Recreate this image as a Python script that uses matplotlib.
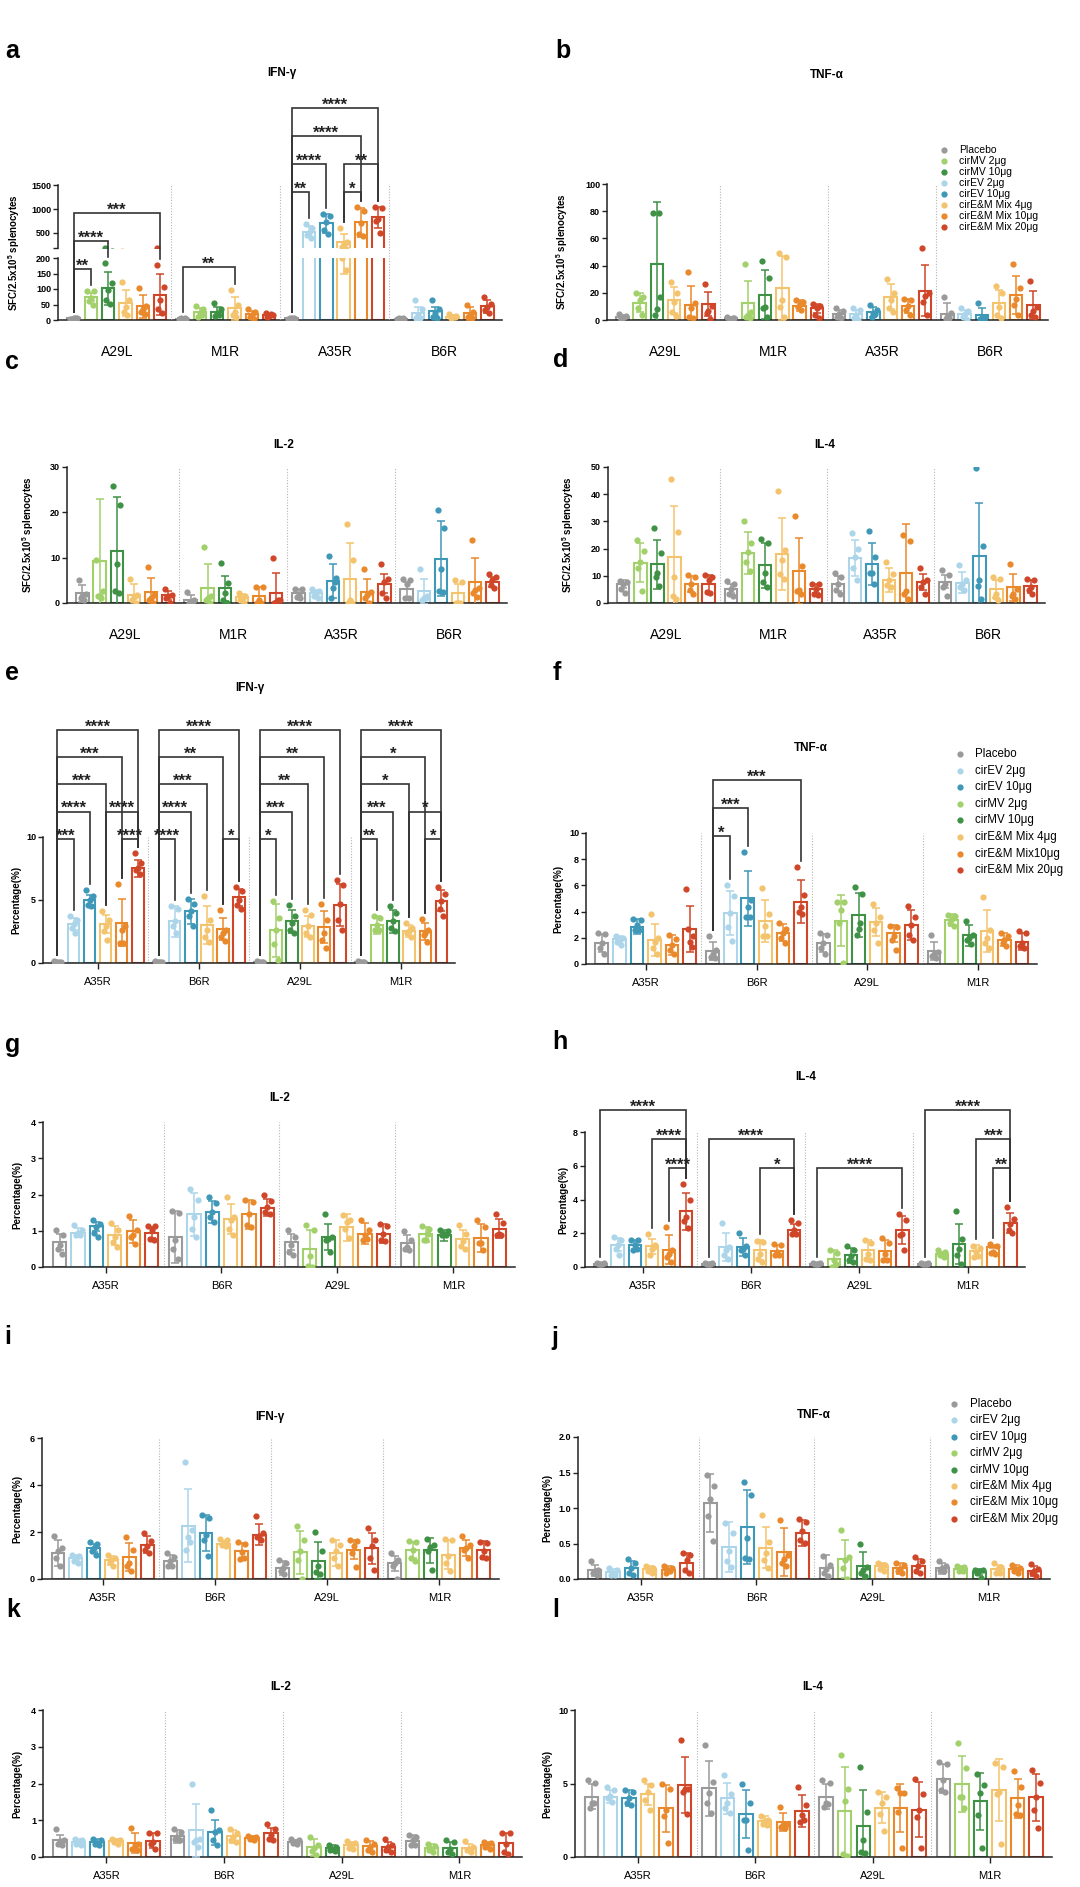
import numpy as np
import matplotlib
matplotlib.use('Agg')
import matplotlib.pyplot as plt
from matplotlib.lines import Line2D

plt.rcParams['font.family'] = ['Liberation Sans', 'DejaVu Sans']
plt.rcParams['mathtext.fontset'] = 'custom'
plt.rcParams['mathtext.rm'] = 'Liberation Sans'
plt.rcParams['mathtext.bf'] = 'Liberation Sans:bold'

# antigen order: panels a-d use the first, e-l the second
antigens_top = ['A29L', 'M1R', 'A35R', 'B6R']
antigens_low = ['A35R', 'B6R', 'A29L', 'M1R']

# bar order inside a group (MV antigens get cirMV, EV antigens get cirEV)
mv_keys = ['P', 'MV2', 'MV10', 'M4', 'M10', 'M20']
ev_keys = ['P', 'EV2', 'EV10', 'M4', 'M10', 'M20']
colors = {'P': '#9a9a9a', 'MV2': '#a2d06b', 'MV10': '#3f9146', 'EV2': '#acd5ea',
          'EV10': '#3f98b8', 'M4': '#f4c36d', 'M10': '#e9892b', 'M20': '#cf4629'}

legend_b = ['Placebo', 'cirMV 2μg', 'cirMV 10μg', 'cirEV 2μg', 'cirEV 10μg',
            'cirE&M Mix 4μg', 'cirE&M Mix 10μg', 'cirE&M Mix 20μg']
legend_b_keys = ['P', 'MV2', 'MV10', 'EV2', 'EV10', 'M4', 'M10', 'M20']
legend_f = ['Placebo', 'cirEV 2μg', 'cirEV 10μg', 'cirMV 2μg', 'cirMV 10μg',
            'cirE&M Mix 4μg', 'cirE&M Mix10μg', 'cirE&M Mix 20μg']
legend_j = ['Placebo', 'cirEV 2μg', 'cirEV 10μg', 'cirMV 2μg', 'cirMV 10μg',
            'cirE&M Mix 4μg', 'cirE&M Mix 10μg', 'cirE&M Mix 20μg']
legend_fj_keys = ['P', 'EV2', 'EV10', 'MV2', 'MV10', 'M4', 'M10', 'M20']

# ---- a: ELISpot IFN-g ----
sfc_ifng_mean = [[5, 73, 102, 55, 44, 82], [4, 26, 27, 38, 18, 16],
                 [5, 530, 700, 310, 720, 828], [4, 22, 28, 11, 21, 44]]
sfc_ifng_sd = [[2, 13, 53, 43, 36, 65], [2, 12, 15, 37, 10, 4],
               [2, 120, 196, 160, 294, 221], [2, 21, 15, 5, 22, 20]]
sfc_ifng_pts = [
    [[3, 5, 6, 4, 7], [95, 93, 72, 62, 48], [185, 118, 96, 64, 53], [123, 66, 43, 27, 16], [102, 45, 34, 27, 19], [179, 107, 64, 37, 21]],
    [[2, 3, 4, 5, 6], [46, 34, 21, 11, 16], [56, 37, 21, 13, 16], [98, 48, 27, 16, 11], [34, 27, 16, 11, 2], [21, 16, 13, 11, 19]],
    [[3, 4, 5, 6, 7], [690, 600, 510, 450, 400], [900, 850, 720, 560, 470], [600, 320, 270, 200, 160], [1040, 950, 700, 480, 430], [1045, 1030, 800, 760, 505]],
    [[2, 3, 4, 5, 6], [64, 37, 16, 5, 5], [64, 37, 21, 11, 5], [19, 13, 9, 5, 11], [50, 27, 16, 9, 5], [75, 53, 41, 32, 21]]]

# ---- b: ELISpot TNF-a ----
sfc_tnf_mean = [[2.1, 12.8, 41.3, 14.7, 11, 11.8], [1.2, 12.3, 18.4, 23.3, 10.6, 8.6],
                [4.4, 4.4, 6.1, 17.2, 10.3, 21.6], [4.4, 4.4, 3.7, 12.3, 18.4, 11]]
sfc_tnf_sd = [[1.6, 6.9, 45.2, 9.9, 14.3, 9.1], [0.8, 16.7, 18, 23.4, 4.1, 3.2],
              [3, 3, 3.7, 9.3, 4.9, 18.9], [7.9, 3, 4.9, 9.8, 14, 10.6]]
sfc_tnf_pts = [
    [[4.4, 3, 1.2, 0.3, 2], [19.7, 16.7, 14.7, 8.6, 3.7], [79, 17, 8, 4, 79], [28.3, 19.7, 13.5, 5.7, 3.2], [35, 12.8, 8.6, 2.5, 1.2], [26.5, 10.3, 6.9, 4.9, 0.5]],
    [[2, 1.5, 1, 0.5, 1.2], [41, 5.7, 3.7, 2.5, 1.2], [43.5, 30.7, 9.8, 8.6, 2.5], [49, 46, 14.7, 9.8, 2.5], [15, 13.5, 12, 9.8, 7.4], [11.8, 10.3, 8.6, 3.7, 1.2]],
    [[8.6, 6.9, 4.4, 2.5, 1.2], [8.6, 7.4, 3.7, 1.2, 0.3], [11, 7.4, 4.9, 2.5, 4.4], [30, 19.7, 14.7, 8.6, 6.1], [15.2, 14.7, 10.3, 7.4, 3.7], [53, 20, 18, 13, 4]],
    [[16.7, 4.9, 2.5, 0.5, 1.2], [8.6, 6.9, 4.4, 2.5, 0.3], [12.3, 2.5, 1.2, 0.5, 0.2], [25.3, 19.7, 9.3, 3.7, 1.2], [41, 23.8, 15.2, 11, 3.7], [29, 9.8, 6.9, 3.7, 2]]]

# ---- c: ELISpot IL-2 ----
sfc_il2_mean = [[2.1, 9.2, 11.5, 1.7, 2.4, 1.7], [0.6, 3.2, 3.2, 1.3, 1.5, 2.3],
                [2.1, 2.1, 4.8, 5.4, 2.4, 4.3], [3.0, 2.6, 9.8, 2.1, 4.7, 4.7]]
sfc_il2_sd = [[1.8, 13.7, 11.9, 2.4, 3.2, 1.0], [1.1, 5.4, 2.7, 0.6, 2.0, 4.3],
              [0.9, 0.7, 3.7, 7.9, 3.0, 2.2], [1.7, 2.8, 8.3, 2.0, 5.3, 1.1]]
sfc_il2_pts = [
    [[5, 2, 1.5, 1, 0.6], [9.5, 2.6, 1.5, 1.5, 1.2], [25.9, 21.7, 8.6, 2.6, 2.1], [5.4, 1.7, 1.3, 0.6, 0], [8, 1.7, 1, 0.6, 0], [3, 1.7, 1.5, 1, 0]],
    [[2.4, 0.6, 0, 0, 0], [12.4, 1.5, 1, 0.6, 0], [8.9, 4.5, 2.1, 0.6, 0], [2.1, 1.5, 1, 0.6, 0], [3.5, 3.5, 0.6, 0, 0], [10, 0.6, 0.2, 0, 0.6]],
    [[3, 3, 1.7, 1.3, 1], [3, 2.7, 2.1, 1.5, 1], [10.4, 5.5, 3.3, 1, 4.7], [17.4, 9.5, 0.6, 0, 0], [7.4, 2.4, 1.7, 1, 0], [8.5, 5.2, 4.7, 2.1, 1]],
    [[5.2, 5, 4.1, 1, 1], [7.4, 1.5, 1, 0.6, 1], [20.5, 16.5, 7.6, 2.7, 2.4], [5, 4.7, 0, 0, 0], [14, 3.2, 2.8, 2.1, 1.3], [6.5, 5.8, 5, 3.9, 3.2]]]

# ---- d: ELISpot IL-4 ----
sfc_il4_mean = [[6.9, 14.8, 14.2, 17, 6.9, 6.9], [5.3, 18.5, 13.9, 18, 11.8, 5.3],
                [7.1, 16.6, 14.2, 8.4, 11.1, 7.8], [7.8, 7.5, 17.4, 5.3, 5.7, 6.2]]
sfc_il4_sd = [[1.5, 7.1, 9.0, 18.7, 3.0, 3.3], [1.6, 7.7, 8.3, 13.4, 12.0, 1.6],
              [2.8, 6.6, 7.7, 4.3, 18.0, 3.0], [2.4, 4.0, 19.3, 3.3, 4.9, 2.4]]
sfc_il4_pts = [
    [[8.1, 7.8, 6.9, 5.3, 3.7], [23, 19, 15, 13, 4.5], [27.5, 18.2, 11.1, 9.6, 6.2], [45.6, 26.2, 9.6, 2.5, 1.6], [10.2, 9.6, 6.9, 4.7, 3.4], [10.2, 9.6, 8.4, 4.1, 3.7]],
    [[8.1, 6.9, 5.3, 3.4, 2.5], [30.2, 21.9, 18.8, 15.1, 11.8], [23.4, 21.9, 11.1, 7.8, 5.7], [41, 19.5, 15.8, 10.8, 9], [32, 13.5, 4.9, 4.4, 3.4], [7.1, 6.9, 5.3, 3.4, 2.8]],
    [[11.1, 9.6, 6.9, 4.7, 3.4], [25.6, 20, 17, 13, 8.4], [26.5, 17, 11.1, 11.1, 7.1], [15.1, 10.6, 8.4, 6.5, 5.9], [25, 22.8, 4.4, 3.4, 1.6], [12.7, 8.4, 7.8, 5.9, 3.4]],
    [[12.1, 10.2, 7.1, 5.9, 2.5], [13.9, 8.4, 7.1, 5.9, 4.7], [49.6, 21, 8.6, 6.2, 1.6], [9.6, 8.7, 3.4, 2.2, 1], [14.5, 5.3, 3.4, 2.5, 1.6], [9, 8.6, 5.9, 4.7, 3.4]]]

# ---- e: ICS IFN-g ----
pct_ifng_mean = [[0.1, 3.1, 5.0, 3.1, 3.2, 7.5], [0.1, 3.3, 4.1, 3.0, 2.7, 5.2],
                 [0.1, 2.6, 3.3, 2.9, 2.85, 4.6], [0.1, 3.0, 3.3, 2.55, 2.5, 4.95]]
pct_ifng_sd = [[0.03, 0.45, 0.4, 0.7, 1.85, 0.65], [0.03, 1.2, 1.0, 1.5, 0.85, 0.7],
               [0.03, 2.1, 0.9, 0.8, 1.25, 1.7], [0.03, 0.7, 0.9, 0.45, 0.65, 0.85]]
pct_ifng_pts = [
    [[0.12, 0.1, 0.08, 0.11, 0.09], [3.7, 3.4, 3.1, 2.8, 2.4], [5.8, 5.3, 5.0, 4.6, 4.5], [4.1, 3.4, 2.9, 2.5, 1.8], [6.3, 2.9, 2.6, 1.6, 1.6], [8.7, 7.95, 7.5, 7.4, 7.1]],
    [[0.12, 0.1, 0.08, 0.11, 0.09], [4.5, 4.3, 3.3, 2.9, 2.4], [5.1, 4.7, 4.1, 3.7, 2.9], [5.3, 3.4, 2.6, 2.1, 1.7], [4.2, 2.6, 2.4, 2.05, 1.75], [6.05, 5.7, 5.0, 4.6, 4.3]],
    [[0.12, 0.1, 0.08, 0.11, 0.09], [4.9, 3.6, 2.6, 1.5, 0.2], [4.6, 3.7, 3.2, 2.6, 2.4], [4.2, 3.8, 2.9, 2.4, 2.1], [4.7, 3.4, 2.4, 1.8, 1.2], [6.6, 6.2, 4.7, 3.4, 2.6]],
    [[0.12, 0.1, 0.08, 0.11, 0.09], [3.7, 3.55, 3.0, 2.6, 2.6], [4.5, 3.95, 3.3, 2.8, 2.5], [3.15, 2.8, 2.5, 2.4, 2.1], [3.5, 2.6, 2.4, 2.2, 1.7], [6.05, 5.5, 4.9, 4.3, 3.7]]]

# ---- f: ICS TNF-a ----
pct_tnf_mean = [[1.6, 1.9, 2.85, 1.83, 1.45, 2.7], [1.0, 3.9, 5.0, 3.3, 2.4, 4.75],
                [1.6, 3.3, 3.75, 3.2, 2.35, 3.0], [1.0, 3.35, 2.2, 2.5, 1.85, 1.7]]
pct_tnf_sd = [[0.7, 0.2, 0.55, 1.2, 0.75, 1.75], [0.7, 1.7, 2.1, 1.6, 0.65, 1.65],
              [0.7, 1.95, 1.7, 1.1, 0.65, 1.15], [0.7, 0.45, 0.8, 1.6, 0.5, 0.65]]
pct_tnf_pts = [
    [[2.4, 2.3, 1.6, 1.2, 0.8], [2.1, 2.0, 1.9, 1.7, 1.45], [3.4, 3.35, 3.0, 2.6, 2.6], [3.85, 1.95, 1.7, 1.2, 0.8], [2.2, 1.9, 1.45, 1.07, 0.8], [5.7, 2.1, 1.7, 2.7, 1.3]],
    [[2.15, 1.07, 0.8, 0.55, 0.43], [6.0, 5.2, 3.9, 2.85, 1.75], [8.55, 4.9, 4.35, 3.6, 3.55], [5.8, 3.85, 2.9, 2.1, 2.1], [3.1, 2.7, 2.4, 1.95, 1.6], [7.4, 5.25, 4.35, 4.0, 3.8]],
    [[2.35, 2.2, 1.6, 1.2, 0.8], [4.75, 4.7, 4.15, 3.1, 0.05], [5.85, 5.35, 2.7, 2.2, 3.15], [4.6, 3.6, 3.1, 2.6, 1.6], [2.9, 2.85, 2.15, 1.85, 1.1], [4.4, 3.6, 3.0, 2.2, 1.85]],
    [[2.2, 0.95, 0.8, 0.6, 0.43], [3.75, 3.65, 3.4, 3.1, 2.9], [3.3, 2.2, 1.95, 1.85, 1.5], [5.15, 2.6, 1.95, 1.6, 1.2], [2.35, 2.15, 1.85, 1.6, 1.35], [2.55, 2.35, 1.6, 1.35, 1.2]]]

# ---- g: ICS IL-2 ----
pct_il2_mean = [[0.69, 0.95, 1.12, 0.87, 0.98, 0.95], [0.83, 1.45, 1.52, 1.33, 1.45, 1.64],
                [0.69, 0.5, 0.83, 1.1, 0.92, 0.92], [0.66, 0.9, 0.87, 0.78, 0.81, 1.06]]
pct_il2_sd = [[0.23, 0.13, 0.12, 0.25, 0.31, 0.15], [0.71, 0.59, 0.3, 0.42, 0.39, 0.23],
              [0.23, 0.53, 0.37, 0.37, 0.29, 0.26], [0.21, 0.2, 0.14, 0.25, 0.39, 0.27]]
pct_il2_pts = [
    [[1.03, 0.87, 0.6, 0.5, 0.37], [1.15, 1.03, 0.95, 0.87, 0.87], [1.3, 1.2, 1.1, 0.95, 0.82], [1.21, 1.01, 0.83, 0.69, 0.55], [1.4, 1.01, 0.87, 0.83, 0.64], [1.13, 1.13, 1.01, 0.78, 0.75]],
    [[1.54, 1.5, 0.74, 0.5, 0.23], [2.14, 1.84, 1.38, 1.06, 0.83], [1.93, 1.77, 1.52, 1.38, 1.24], [1.93, 1.38, 1.29, 1.06, 0.87], [1.84, 1.79, 1.45, 1.15, 1.1], [2.0, 1.81, 1.66, 1.52, 1.47]],
    [[1.03, 0.83, 0.6, 0.41, 0.32], [1.15, 1.01, 0.3, 0.03, 0.01], [1.47, 0.83, 0.78, 0.74, 0.41], [1.43, 1.29, 1.24, 1.06, 0.81], [1.29, 1.01, 0.87, 0.74, 0.78], [1.18, 1.12, 0.92, 0.74, 0.72]],
    [[1.0, 0.74, 0.55, 0.5, 0.46], [1.13, 1.06, 0.74, 0.74, 0.92], [1.03, 1.0, 0.92, 0.87, 0.87], [1.15, 0.92, 0.72, 0.57, 0.5], [1.29, 1.1, 0.66, 0.66, 0.46], [1.47, 1.21, 0.92, 0.87, 0.87]]]

# ---- h: ICS IL-4 ----
pct_il4_mean = [[0.2, 1.32, 1.28, 1.23, 1.03, 3.3], [0.2, 1.19, 1.19, 0.99, 0.95, 2.21],
                [0.2, 0.49, 0.69, 1.03, 0.95, 2.17], [0.2, 0.79, 1.38, 0.95, 1.19, 2.61]]
pct_il4_sd = [[0.05, 0.4, 0.34, 0.45, 0.85, 1.09], [0.05, 0.85, 0.55, 0.59, 0.33, 0.32],
              [0.05, 0.54, 0.46, 0.59, 0.67, 0.83], [0.05, 0.1, 1.19, 0.33, 0.09, 0.61]]
pct_il4_pts = [
    [[0.25, 0.22, 0.2, 0.18, 0.15], [1.78, 1.62, 1.28, 1.09, 0.69], [1.62, 1.58, 1.28, 1.03, 1.09], [1.98, 1.28, 1.09, 0.69, 1.19], [2.37, 0.99, 0.79, 0.59, 0.3], [4.9, 3.95, 2.95, 2.75, 2.3]],
    [[0.25, 0.22, 0.2, 0.18, 0.15], [2.61, 1.19, 0.99, 0.69, 0.49], [2.02, 1.23, 1.09, 0.99, 0.69], [1.54, 1.48, 0.79, 0.49, 0.3], [1.38, 1.28, 0.89, 0.69, 0.69], [2.77, 2.61, 2.17, 1.98, 1.98]],
    [[0.25, 0.22, 0.2, 0.18, 0.15], [1.03, 0.83, 0.4, 0.0, 0.16], [1.23, 0.99, 0.63, 0.43, 0.3], [1.62, 1.42, 0.79, 0.49, 0.4], [1.74, 1.42, 0.79, 0.43, 0.4], [3.16, 2.77, 1.98, 1.88, 1.03]],
    [[0.25, 0.22, 0.2, 0.18, 0.15], [0.99, 0.89, 0.79, 0.69, 0.59], [3.3, 1.68, 1.09, 0.69, 0.2], [1.23, 1.15, 0.89, 0.59, 0.63], [1.38, 1.23, 0.89, 0.83, 0.79], [3.56, 2.87, 2.57, 2.21, 2.02]]]

# ---- i: IFN-g (second set) ----
pct_ifng2_mean = [[1.1, 0.89, 1.32, 0.79, 0.94, 1.46], [0.75, 2.27, 1.96, 1.5, 1.18, 1.89],
                  [0.47, 1.13, 0.78, 1.1, 1.25, 1.3], [0.66, 1.22, 1.22, 1.04, 1.32, 1.22]]
pct_ifng2_sd = [[0.55, 0.15, 0.17, 0.2, 0.59, 0.36], [0.29, 1.56, 0.78, 0.1, 0.35, 0.46],
                [0.28, 0.9, 0.79, 0.55, 0.4, 0.66], [0.3, 0.34, 0.52, 0.63, 0.33, 0.38]]
pct_ifng2_pts = [
    [[1.82, 1.32, 1.18, 0.89, 0.54], [1.04, 0.96, 0.85, 0.75, 0.68], [1.56, 1.5, 1.32, 1.18, 1.04], [1.04, 0.89, 0.79, 0.71, 0.54], [1.79, 1.25, 0.68, 0.54, 0.33], [1.95, 1.6, 1.4, 1.25, 1.1]],
    [[1.1, 0.94, 0.75, 0.54, 0.54], [4.98, 2.1, 1.79, 1.22, 1.56], [2.74, 2.6, 1.89, 1.65, 0.99], [1.7, 1.65, 1.53, 1.46, 1.39], [1.56, 1.5, 1.13, 0.85, 0.89], [2.67, 1.96, 1.82, 1.79, 1.67]],
    [[0.82, 0.68, 0.47, 0.33, 0.23], [2.24, 1.67, 1.18, 0.82, 0.0], [1.99, 1.18, 0.54, 0.28, 0.23], [1.67, 1.46, 1.18, 0.89, 0.54], [1.65, 1.6, 1.4, 1.1, 0.5], [2.17, 1.67, 1.4, 0.9, 0.37]],
    [[1.1, 0.82, 0.68, 0.54, 0.0], [1.6, 1.56, 1.25, 0.89, 0.75], [1.7, 1.45, 1.35, 1.2, 0.4], [1.7, 1.67, 0.96, 0.68, 0.33], [1.84, 1.46, 1.32, 1.22, 0.89], [1.56, 1.53, 1.18, 0.94, 0.89]]]

# ---- j: TNF-a (second set) ----
pct_tnf2_mean = [[0.12, 0.094, 0.16, 0.14, 0.13, 0.23], [1.07, 0.45, 0.73, 0.44, 0.38, 0.65],
                 [0.15, 0.28, 0.18, 0.18, 0.15, 0.18], [0.15, 0.14, 0.1, 0.14, 0.14, 0.11]]
pct_tnf2_sd = [[0.08, 0.05, 0.09, 0.04, 0.05, 0.13], [0.41, 0.35, 0.52, 0.29, 0.34, 0.18],
               [0.19, 0.27, 0.2, 0.05, 0.08, 0.1], [0.08, 0.04, 0.04, 0.06, 0.06, 0.07]]
pct_tnf2_pts = [
    [[0.26, 0.13, 0.11, 0.08, 0.06], [0.16, 0.13, 0.09, 0.06, 0.06], [0.28, 0.23, 0.15, 0.08, 0.06], [0.18, 0.15, 0.13, 0.11, 0.09], [0.18, 0.15, 0.13, 0.08, 0.11], [0.37, 0.34, 0.27, 0.13, 0.09]],
    [[1.47, 1.31, 1.12, 0.89, 0.54], [0.79, 0.65, 0.4, 0.26, 0.17], [1.36, 1.19, 0.58, 0.3, 0.28], [0.9, 0.52, 0.37, 0.27, 0.15], [0.83, 0.34, 0.28, 0.23, 0.19], [0.84, 0.8, 0.67, 0.55, 0.51]],
    [[0.33, 0.2, 0.14, 0.08, 0.04], [0.69, 0.31, 0.27, 0.15, 0.0], [0.5, 0.17, 0.12, 0.08, 0.04], [0.23, 0.2, 0.18, 0.14, 0.11], [0.23, 0.2, 0.14, 0.11, 0.08], [0.31, 0.25, 0.18, 0.11, 0.08]],
    [[0.25, 0.18, 0.15, 0.13, 0.11], [0.19, 0.17, 0.14, 0.11, 0.11], [0.13, 0.12, 0.11, 0.08, 0.01], [0.23, 0.17, 0.14, 0.09, 0.08], [0.2, 0.15, 0.14, 0.11, 0.08], [0.21, 0.14, 0.11, 0.08, 0.04]]]

# ---- k: IL-2 (second set) ----
pct_il2b_mean = [[0.45, 0.41, 0.41, 0.44, 0.38, 0.44], [0.56, 0.73, 0.68, 0.56, 0.53, 0.64],
                 [0.41, 0.27, 0.25, 0.32, 0.29, 0.27], [0.44, 0.25, 0.25, 0.25, 0.32, 0.38]]
pct_il2b_sd = [[0.16, 0.09, 0.09, 0.06, 0.26, 0.2], [0.17, 0.72, 0.34, 0.17, 0.03, 0.16],
               [0.06, 0.23, 0.07, 0.09, 0.15, 0.14], [0.15, 0.1, 0.16, 0.11, 0.09, 0.26]]
pct_il2b_pts = [
    [[0.75, 0.47, 0.44, 0.36, 0.32], [0.5, 0.47, 0.41, 0.35, 0.32], [0.5, 0.47, 0.38, 0.35, 0.32], [0.5, 0.45, 0.44, 0.41, 0.36], [0.8, 0.36, 0.32, 0.23, 0.18], [0.65, 0.64, 0.41, 0.35, 0.23]],
    [[0.75, 0.68, 0.55, 0.5, 0.47], [2.0, 0.5, 0.47, 0.41, 0.27], [1.27, 0.73, 0.68, 0.47, 0.32], [0.77, 0.64, 0.55, 0.45, 0.41], [0.56, 0.55, 0.53, 0.5, 0.47], [0.91, 0.75, 0.59, 0.5, 0.45]],
    [[0.5, 0.45, 0.41, 0.38, 0.35], [0.55, 0.34, 0.25, 0.15, 0.05], [0.32, 0.27, 0.23, 0.18, 0.16], [0.44, 0.38, 0.32, 0.25, 0.23], [0.47, 0.36, 0.27, 0.2, 0.14], [0.5, 0.32, 0.27, 0.2, 0.14]],
    [[0.59, 0.55, 0.47, 0.32, 0.32], [0.36, 0.29, 0.23, 0.18, 0.14], [0.45, 0.41, 0.23, 0.14, 0.09], [0.44, 0.27, 0.23, 0.18, 0.14], [0.41, 0.38, 0.32, 0.27, 0.23], [0.65, 0.64, 0.36, 0.14, 0.09]]]

# ---- l: IL-4 (second set) ----
pct_il4b_mean = [[4.1, 4.1, 4.0, 4.27, 3.3, 4.89], [4.66, 3.98, 2.91, 2.45, 2.39, 3.11],
                 [4.1, 3.11, 2.09, 3.36, 3.36, 3.23], [5.34, 4.95, 3.8, 4.55, 3.98, 4.05]]
pct_il4b_sd = [[0.85, 0.45, 0.55, 0.73, 1.63, 1.88], [1.89, 1.07, 1.64, 0.32, 0.61, 1.09],
               [0.85, 3.03, 2.5, 1.07, 1.64, 1.88], [0.98, 1.91, 1.93, 2.09, 1.36, 1.63]]
pct_il4b_pts = [
    [[5.27, 5.05, 3.64, 3.3, 3.64], [4.77, 4.55, 4.14, 3.98, 3.75], [4.59, 4.43, 3.98, 3.64, 3.52], [5.27, 4.89, 4.43, 3.9, 3.18], [4.95, 4.6, 3.2, 2.8, 0.98], [7.95, 4.6, 4.6, 4.4, 2.9]],
    [[7.61, 5.11, 4.32, 3.64, 3.0], [5.6, 4.3, 3.7, 3.3, 3.0], [4.95, 3.7, 2.5, 2.5, 0.5], [2.77, 2.55, 2.45, 2.27, 2.16], [3.41, 2.27, 2.16, 2.05, 2.0], [4.77, 3.52, 2.84, 2.39, 2.5]],
    [[5.27, 5.05, 3.64, 3.41, 3.6], [6.93, 4.6, 3.8, 0.2, 0.05], [6.09, 3.07, 1.14, 0.34, 0.27], [4.43, 4.1, 3.64, 2.91, 1.77], [4.66, 4.36, 4.36, 3.07, 0.64], [5.34, 4.27, 3.2, 2.7, 0.6]],
    [[6.48, 6.32, 5.23, 4.55, 4.43], [7.73, 6.07, 4.1, 4.1, 3.3], [5.68, 4.93, 4.32, 2.84, 0.64], [6.41, 6.09, 4.43, 4.27, 0.91], [5.86, 4.77, 3.52, 2.91, 2.84], [5.95, 5.05, 4.1, 3.18, 2.0]]]

# significance brackets: (group, bar_i, bar_j, stars, level)
a_brackets = [(0, 0, 1, '**', 0), (0, 0, 2, '****', 1), (0, 0, 5, '***', 2), (1, 0, 3, '**', 0),
              (2, 0, 1, '**', 0), (2, 3, 4, '*', 0), (2, 0, 2, '****', 1), (2, 3, 5, '**', 1),
              (2, 0, 4, '****', 2), (2, 0, 5, '****', 3)]
e_brackets = [(0, 0, 1, '***', 0), (0, 4, 5, '****', 0), (0, 0, 2, '****', 1), (0, 3, 5, '****', 1),
              (0, 0, 3, '***', 2), (0, 0, 4, '***', 3), (0, 0, 5, '****', 4),
              (1, 0, 1, '****', 0), (1, 4, 5, '*', 0), (1, 0, 2, '****', 1), (1, 0, 3, '***', 2),
              (1, 0, 4, '**', 3), (1, 0, 5, '****', 4),
              (2, 0, 1, '*', 0), (2, 0, 2, '***', 1), (2, 0, 3, '**', 2), (2, 0, 4, '**', 3),
              (2, 0, 5, '****', 4),
              (3, 0, 1, '**', 0), (3, 4, 5, '*', 0), (3, 0, 2, '***', 1), (3, 3, 5, '*', 1),
              (3, 0, 3, '*', 2), (3, 0, 4, '*', 3), (3, 0, 5, '****', 4)]
f_brackets = [(1, 0, 1, '*', 0), (1, 0, 2, '***', 1), (1, 0, 5, '***', 2)]
h_brackets = [(0, 4, 5, '****', 0), (0, 3, 5, '****', 1), (0, 0, 5, '****', 2),
              (1, 3, 5, '*', 0), (1, 0, 5, '****', 1), (2, 0, 5, '****', 0),
              (3, 4, 5, '**', 0), (3, 3, 5, '***', 1), (3, 0, 5, '****', 2)]

W, H = 1080, 1887
fig = plt.figure(figsize=(W / 100, H / 100), dpi=100)

P = 6.3
XLIM = (-0.9, 24.75)
OFFS = np.array([-0.2, 0.2, 0.0, -0.11, 0.11])
INK = '#222222'
SFC = r'SFC/2.5x10$^{\mathbf{5}}$ splenocytes'
PCT = 'Percentage(%)'


def px_rect(x0, x1, ytop, ybot):
    return [x0 / W, 1 - ybot / H, (x1 - x0) / W, (ybot - ytop) / H]


def fig_xy(x, y):
    return x / W, 1 - y / H


def draw_bars(ax, antigens, mean, sd, pts):
    for g, ag in enumerate(antigens):
        keys = mv_keys if ag in ('A29L', 'M1R') else ev_keys
        for b in range(6):
            x = g * P + b
            c = colors[keys[b]]
            ax.bar(x, mean[g][b], width=0.72, facecolor='none', edgecolor=c, linewidth=1.5, zorder=2)
            ax.errorbar(x, mean[g][b], yerr=sd[g][b], fmt='none', ecolor=c, elinewidth=1.1,
                        capsize=3, capthick=1.1, zorder=3)
            ax.plot(x + OFFS, pts[g][b], 'o', ms=4.5, color=c, mew=0, zorder=4)


def style(ax, yticks, fmt=None):
    ax.set_xlim(*XLIM)
    for s in ['top', 'right']:
        ax.spines[s].set_visible(False)
    for s in ['left', 'bottom']:
        ax.spines[s].set_linewidth(1.1)
        ax.spines[s].set_color(INK)
    labels = [fmt % t if fmt else str(t) for t in yticks]
    ax.set_yticks(yticks, labels, fontsize=6.5, fontweight='bold')
    ax.tick_params(axis='y', length=3.5, width=1.0, pad=1.5, color=INK)


def brackets(ov, spec, mean, sd, pts, to_px, base, step):
    for g, i, j, stars, lev in spec:
        b0 = base[g] if isinstance(base, (list, tuple)) else base
        yl = b0 + lev * step
        xi, xj = g * P + i, g * P + j
        ends = []
        for k in (i, j):
            top = max(mean[g][k] + sd[g][k], max(pts[g][k]))
            ends.append(min(to_px(top) + 6, yl))
        ov.plot([xi, xi, xj, xj], [ends[0], yl, yl, ends[1]], color='#333333', lw=1.2,
                clip_on=False, solid_joinstyle='miter')
        ov.text((xi + xj) / 2, yl - 1.5, stars, ha='center', va='baseline', fontsize=12,
                fontweight='bold', color='#222222')


def panel(letter, title, data, antigens, box, ytop, yticks, title_xy, letter_xy, ylabel, ylab_x,
          label_gap, label_fs, tickmarks, fmt=None, bspec=None, bbase=0, bstep=0):
    x0, x1, yt, yb = box
    mean, sd, pts = data
    hpx = yb - yt
    centers = [g * P + 2.5 for g in range(4)]
    seps = [g * P + 5.65 for g in range(3)]

    if ytop is None:
        # broken y axis (panel a): 0-200 below, ~190-1500 above
        lo = fig.add_axes(px_rect(x0, x1, yb - 62, yb))
        up = fig.add_axes(px_rect(x0, x1, yt, yt + 63))
        for ax in (lo, up):
            ax.patch.set_alpha(0)
            draw_bars(ax, antigens, mean, sd, pts)
        lo.set_ylim(0, 200)
        up.set_ylim(187.5, 1500)
        style(lo, [0, 50, 100, 150, 200])
        style(up, [187.5, 500, 1000, 1500])
        up.set_yticklabels(['', '500', '1000', '1500'], fontsize=6.5, fontweight='bold')
        up.spines['bottom'].set_visible(False)
        up.set_xticks([])
        main = lo

        def to_px(v):
            if v <= 200:
                return v * 62 / 200
            return (yb - (yt + 63)) + (v - 187.5) * 63 / 1312.5
    else:
        main = fig.add_axes(px_rect(x0, x1, yt, yb))
        main.patch.set_alpha(0)
        draw_bars(main, antigens, mean, sd, pts)
        main.set_ylim(0, ytop)
        style(main, yticks, fmt)
        main.vlines(seps, 0, ytop, colors='#b5b5b5', linestyles=(0, (1, 1.5)), lw=0.8, zorder=1)

        def to_px(v):
            return v * hpx / ytop

    main.set_xticks(centers, antigens, fontsize=label_fs)
    if tickmarks:
        main.tick_params(axis='x', length=4, width=1.0, color=INK, pad=label_gap)
    else:
        main.tick_params(axis='x', length=0, pad=label_gap)

    ov = fig.add_axes(px_rect(x0, x1, yt, yb))
    ov.set_xlim(*XLIM)
    ov.set_ylim(0, hpx)
    ov.axis('off')
    if ytop is None:
        ov.vlines(seps, 0, hpx, colors='#b5b5b5', linestyles=(0, (1, 1.5)), lw=0.8)
    if bspec:
        brackets(ov, bspec, mean, sd, pts, to_px, bbase, bstep)

    fig.text(*fig_xy(*title_xy), title, ha='center', va='center', fontsize=8.5, fontweight='bold')
    fig.text(*fig_xy(*letter_xy), letter, ha='center', va='center', fontsize=18, fontweight='bold')
    fig.text(*fig_xy(ylab_x, (yt + yb) / 2), ylabel, ha='center', va='center', rotation=90,
             fontsize=7, fontweight='bold')


def legend(xm, xt, y0, dy, labels, keys, fs):
    for n, (lab, k) in enumerate(zip(labels, keys)):
        y = y0 + n * dy
        fig.add_artist(Line2D([xm / W], [1 - y / H], marker='o', ms=4.5, color=colors[k], mew=0,
                              linestyle='none', transform=fig.transFigure))
        fig.text(xt / W, 1 - y / H, lab, ha='left', va='center', fontsize=fs)


panel('a', 'IFN-γ', (sfc_ifng_mean, sfc_ifng_sd, sfc_ifng_pts), antigens_top, (58, 502, 185, 320),
      None, None, (282, 73), (12, 51), SFC, 14, 18, 10, False,
      bspec=a_brackets, bbase=[51, 53, 128, 0], bstep=28)
panel('b', 'TNF-α', (sfc_tnf_mean, sfc_tnf_sd, sfc_tnf_pts), antigens_top, (607, 1048, 184, 320),
      100, [0, 20, 40, 60, 80, 100], (827, 75), (563, 51), SFC, 562, 18, 10, False)
panel('c', 'IL-2', (sfc_il2_mean, sfc_il2_sd, sfc_il2_pts), antigens_top, (67, 507, 467, 603),
      30, [0, 10, 20, 30], (284, 445), (12, 362), SFC, 28, 18, 10, False)
panel('d', 'IL-4', (sfc_il4_mean, sfc_il4_sd, sfc_il4_pts), antigens_top, (608, 1045, 467, 603),
      50, [0, 10, 20, 30, 40, 50], (825, 445), (561, 360), SFC, 568, 18, 10, False)
panel('e', 'IFN-γ', (pct_ifng_mean, pct_ifng_sd, pct_ifng_pts), antigens_low, (43, 455, 837, 963),
      10, [0, 5, 10], (250, 688), (12, 673), PCT, 16, 6, 8, True,
      bspec=e_brackets, bbase=124, bstep=27.3)
panel('f', 'TNF-α', (pct_tnf_mean, pct_tnf_sd, pct_tnf_pts), antigens_low, (586, 1037, 833, 964),
      10, [0, 2, 4, 6, 8, 10], (811, 748), (557, 673), PCT, 558, 6, 8, True,
      bspec=f_brackets, bbase=128, bstep=28)
panel('g', 'IL-2', (pct_il2_mean, pct_il2_sd, pct_il2_pts), antigens_low, (43, 515, 1122, 1267),
      4, [0, 1, 2, 3, 4], (280, 1098), (13, 1045), PCT, 17, 6, 8, True)
panel('h', 'IL-4', (pct_il4_mean, pct_il4_sd, pct_il4_pts), antigens_low, (585, 1025, 1132, 1267),
      8, [0, 2, 4, 6, 8], (806, 1077), (560, 1042), PCT, 563, 6, 8, True,
      bspec=h_brackets, bbase=99, bstep=29)
panel('i', 'IFN-γ', (pct_ifng2_mean, pct_ifng2_sd, pct_ifng2_pts), antigens_low, (42, 499, 1438, 1579),
      6, [0, 2, 4, 6], (270, 1417), (8, 1337), PCT, 17, 6, 8, True)
panel('j', 'TNF-α', (pct_tnf2_mean, pct_tnf2_sd, pct_tnf2_pts), antigens_low, (578, 1050, 1437, 1579),
      2, [0, 0.5, 1.0, 1.5, 2.0], (814, 1415), (555, 1338), PCT, 547, 6, 8, True, fmt='%.1f')
panel('k', 'IL-2', (pct_il2b_mean, pct_il2b_sd, pct_il2b_pts), antigens_low, (43, 522, 1710, 1857),
      4, [0, 1, 2, 3, 4], (281, 1687), (13, 1610), PCT, 17, 6, 8, True)
panel('l', 'IL-4', (pct_il4b_mean, pct_il4b_sd, pct_il4b_pts), antigens_low, (575, 1052, 1710, 1857),
      10, [0, 5, 10], (813, 1687), (556, 1610), PCT, 547, 6, 8, True)

legend(944, 959, 150, 11, legend_b, legend_b_keys, 7.5)
legend(960, 975, 754, 16.6, legend_f, legend_fj_keys, 8.3)
legend(954, 970, 1404, 16.4, legend_j, legend_fj_keys, 8.3)

fig.savefig('out.png', dpi=100, facecolor='white')
